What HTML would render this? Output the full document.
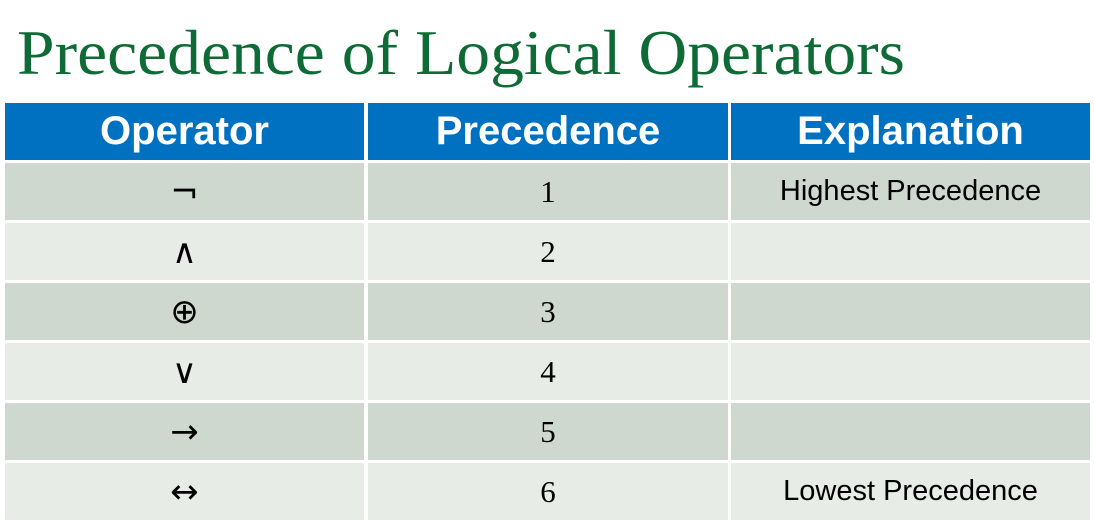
<!DOCTYPE html>
<html><head><meta charset="utf-8"><style>
html,body{margin:0;padding:0;background:#fff;width:1094px;height:522px;overflow:hidden;position:relative}
.c{position:absolute;display:flex;align-items:center;justify-content:center;color:#000}
.h{background:#0070C0;color:#fff;font:bold 40px "Liberation Sans",sans-serif}
.o{background:#CFD8CF}.e{background:#E7ECE7}
.sym{font:34px "DejaVu Sans",sans-serif}
.num{font:31px "Liberation Serif",serif}
.txt{font:29px "Liberation Sans",sans-serif}
</style></head><body>
<svg style="position:absolute;left:0;top:0" width="1094" height="100">
<text x="17" y="74" font-family="Liberation Serif, serif" font-size="64" fill="#0E6B35" textLength="888" lengthAdjust="spacingAndGlyphs">Precedence of Logical Operators</text>
</svg>
<div id="t"></div>
<script>
const headers=["Operator","Precedence","Explanation"];
const ops=["¬","∧","⊕","∨","→","↔"];
const prec=["1","2","3","4","5","6"];
const expl=["Highest Precedence","","","","","Lowest Precedence"];
const cols=[[5,364],[368,728],[731,1090]];
const t=document.getElementById('t');
function cell(x0,x1,y,h,cls,text,name){
  const d=document.createElement('div');
  d.className='c '+cls;
  d.style.left=x0+'px';d.style.width=(x1-x0)+'px';d.style.top=y+'px';d.style.height=h+'px';
  d.textContent=text;
  
  
  t.appendChild(d);
}
headers.forEach((h,i)=>cell(cols[i][0],cols[i][1],103,57,'h',h,'header-'+h.toLowerCase()));
for(let r=0;r<ops.length;r++){
  const y=163+r*60, bg=r%2?'e':'o';
  cell(cols[0][0],cols[0][1],y,57,bg+' sym',ops[r],'operator-cell-'+(r+1));
  cell(cols[1][0],cols[1][1],y,57,bg+' num',prec[r],'precedence-cell-'+(r+1));
  cell(cols[2][0],cols[2][1],y,57,bg+' txt',expl[r],'explanation-cell-'+(r+1));
}
</script>
</body></html>
